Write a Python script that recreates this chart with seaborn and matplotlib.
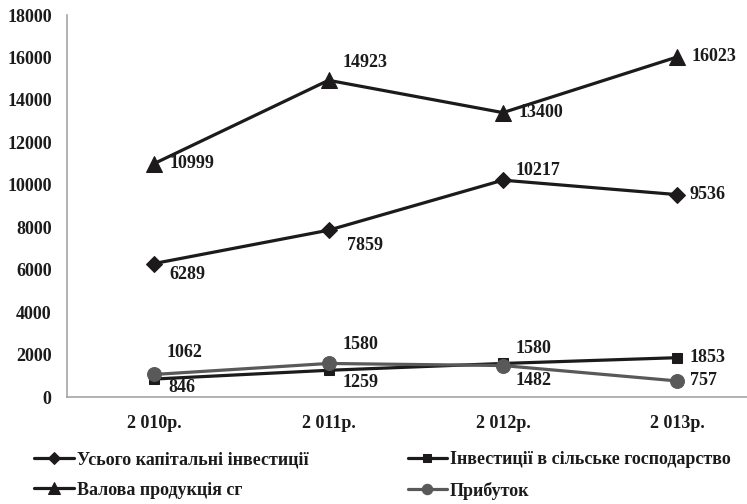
import matplotlib
matplotlib.use('Agg')
import matplotlib.pyplot as plt
import seaborn as sns
import pandas as pd

# ----------------------------------------------------------------------
# Data
# ----------------------------------------------------------------------
YEARS = ['2 010р.', '2 011р.', '2 012р.', '2 013р.']

TOTAL_INVEST = [6289, 7859, 10217, 9536]     # Усього капітальні інвестиції
AGRI_INVEST = [846, 1259, 1580, 1853]        # Інвестиції в сільське господарство
GROSS_OUTPUT = [10999, 14923, 13400, 16023]  # Валова продукція сг
PROFIT = [1062, 1580, 1482, 757]             # Прибуток

SERIES_NAMES = ['Усього капітальні інвестиції', 'Інвестиції в сільське господарство',
                'Валова продукція сг', 'Прибуток']

# ----------------------------------------------------------------------
# Styling
# ----------------------------------------------------------------------
BLACK = '#1c1a1a'
GRAY = '#595959'
FONT = 13

# label offsets in points (dx, dy) for each point of each series
OFFSETS = {
    'Валова продукція сг': [(11, 0), (10, 13), (11, 0), (10, 0)],
    'Усього капітальні інвестиції': [(11, -8), (13, -11), (9, 7), (9, 0)],
    'Інвестиції в сільське господарство': [(10, -6), (10, -9), (9, 11), (9, 0)],
    'Прибуток': [(9, 16), (10, 14), (9, -11), (9, 0)],
}

STYLES = {
    'Валова продукція сг': dict(color=BLACK, marker='^', markersize=11),
    'Усього капітальні інвестиції': dict(color=BLACK, marker='D', markersize=8),
    'Інвестиції в сільське господарство': dict(color=BLACK, marker='s', markersize=7.5),
    'Прибуток': dict(color=GRAY, marker='o', markersize=10),
}

sns.set_theme(style='white')
plt.rcParams['font.family'] = ['Liberation Serif', 'DejaVu Serif']
plt.rcParams['font.weight'] = 'bold'

df = pd.DataFrame({
    'x': list(range(len(YEARS))) * 4,
    'value': TOTAL_INVEST + AGRI_INVEST + GROSS_OUTPUT + PROFIT,
    'series': sum([[n] * len(YEARS) for n in SERIES_NAMES], []),
})

fig = plt.figure(figsize=(7.47, 5.04), dpi=100)
ax = fig.add_axes([67 / 747, 107 / 504, 680 / 747, 382 / 504])

draw_order = ['Валова продукція сг', 'Усього капітальні інвестиції',
              'Інвестиції в сільське господарство', 'Прибуток']
for name in draw_order:
    sub = df[df['series'] == name]
    st = STYLES[name]
    sns.lineplot(data=sub, x='x', y='value', ax=ax, color=st['color'],
                 marker=st['marker'], markersize=st['markersize'],
                 markeredgecolor=st['color'], markerfacecolor=st['color'],
                 linewidth=2.3, label=name, legend=False)
    for (xi, yi), (dx, dy) in zip(zip(sub['x'], sub['value']), OFFSETS[name]):
        ax.annotate(str(yi), (xi, yi), xytext=(dx, dy), textcoords='offset points',
                    ha='left', va='center', fontsize=FONT, fontweight='bold',
                    color=BLACK)

ax.set_xlim(-0.5, 3.4)
ax.set_ylim(0, 18000)
ax.set_yticks(range(0, 18001, 2000))
ax.set_xticks(range(len(YEARS)))
ax.set_xticklabels(YEARS)
ax.set_xlabel('')
ax.set_ylabel('')
ax.tick_params(axis='x', length=0, pad=13, labelsize=FONT)
ax.tick_params(axis='y', length=0, pad=11, labelsize=FONT)
for lab in ax.get_xticklabels() + ax.get_yticklabels():
    lab.set_fontweight('bold')
    lab.set_color(BLACK)

sns.despine(ax=ax)
for side in ['left', 'bottom']:
    ax.spines[side].set_color('#a6a6a6')
    ax.spines[side].set_linewidth(1.2)

# legend: column-wise fill, so order as col1 then col2
handles, labels = ax.get_legend_handles_labels()
hmap = dict(zip(labels, handles))
leg_order = ['Усього капітальні інвестиції', 'Валова продукція сг',
             'Інвестиції в сільське господарство', 'Прибуток']
leg = ax.legend([hmap[n] for n in leg_order], leg_order, ncol=2, frameon=False,
                loc='upper left', bbox_to_anchor=(27 / 747, 1 - 444 / 504),
                bbox_transform=fig.transFigure, fontsize=FONT, handlelength=2.2,
                handletextpad=0.15, columnspacing=5.5, labelspacing=0.75,
                markerscale=0.75, borderaxespad=0)
for t in leg.get_texts():
    t.set_fontweight('bold')
    t.set_color(BLACK)

fig.savefig('out.png', dpi=100)
